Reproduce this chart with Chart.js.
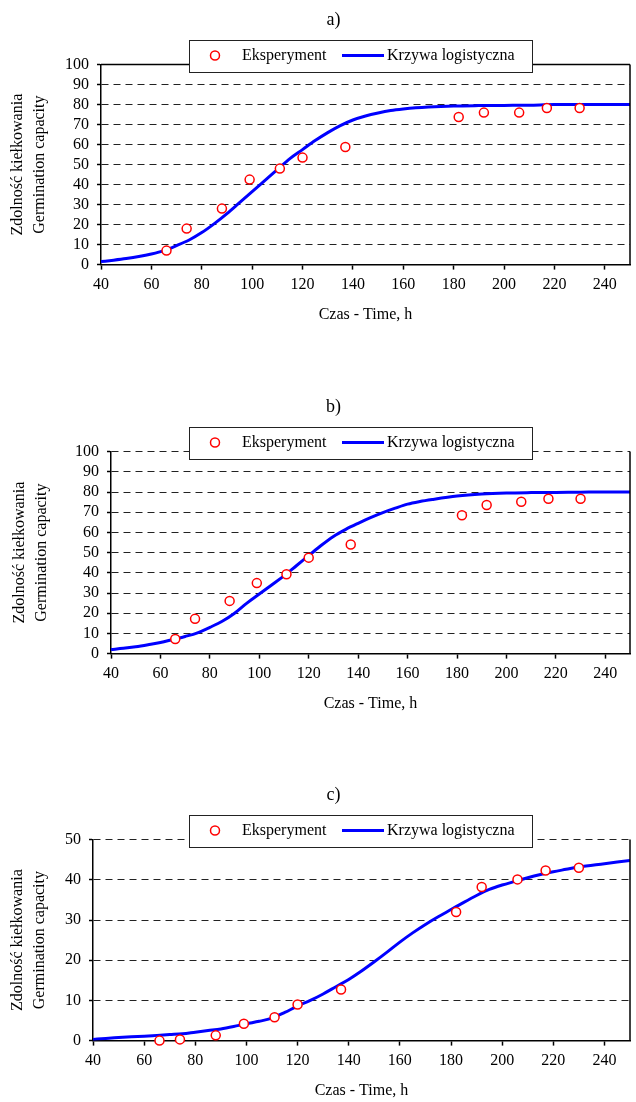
<!DOCTYPE html>
<html lang="pl">
<head>
<meta charset="UTF-8">
<title>Zdolność kiełkowania</title>
<style>
  html,body{margin:0;padding:0;background:#fff;width:636px;height:1102px;overflow:hidden}
  .wykres{position:absolute;left:0}
</style>
</head>
<body>
  <canvas id="wykresA" class="wykres" width="636" height="328" style="top:0;width:636px;height:328px"></canvas>
  <canvas id="wykresB" class="wykres" width="636" height="330" style="top:387px;width:636px;height:330px"></canvas>
  <canvas id="wykresC" class="wykres" width="636" height="329" style="top:775px;width:636px;height:329px"></canvas>

<script src="https://cdn.jsdelivr.net/npm/chart.js@4.4.0"></script>
<script>
/* ---------- Dane ---------- */
const czas = [66, 74, 88, 99, 111, 120, 137, 182, 192, 206, 217, 230];   // h
const eksA = [7, 18, 28, 42.5, 48, 53.5, 58.8, 73.8, 76, 76, 78.3, 78.3];
const eksB = [7.2, 17.2, 26.1, 34.9, 39.3, 47.5, 54, 68.5, 73.6, 75.2, 76.7, 76.7];
const eksC = [0, 0.3, 1.3, 4.2, 5.8, 9, 12.7, 32, 38.2, 40.1, 42.3, 43];

const krzA_x = [40,45,50,55,60,65,70,75,80,85,90,95,100,105,110,115,120,125,130,135,140,145,150,155,160,165,170,180,190,200,210,220,230,240,250];
const krzA_y = [1.5,2.2,3,4,5.3,7,9.5,12.3,16,20.5,25.5,31,36.5,42,47.5,53,57.5,62,66,69.5,72.3,74.3,75.8,77,77.8,78.4,78.8,79.3,79.5,79.6,79.7,80,80,80,80];

const krzB_x = [40,45,50,55,60,65,70,75,80,85,90,95,100,105,110,115,120,125,130,135,140,145,150,155,160,165,170,180,190,200,210,220,230,240,250];
const krzB_y = [2,2.6,3.4,4.4,5.5,7,8.5,10.3,13,16,20,25,29.5,34,38.5,43.5,48.5,53.5,58,61.5,64.5,67.3,69.8,72,74,75.3,76.3,78,79,79.5,79.7,79.8,79.9,80,80];

const krzC_x = [40,45,50,55,60,65,70,75,80,85,90,95,100,105,110,115,120,125,130,135,140,145,150,155,160,165,170,175,180,185,190,195,200,205,210,215,220,225,230,240,250];
const krzC_y = [0.3,0.55,0.75,0.95,1.1,1.3,1.5,1.7,2.1,2.5,2.9,3.5,4.2,4.8,5.6,7,8.6,10,11.6,13.4,15.2,17.3,19.6,22,24.5,26.8,28.9,30.8,32.6,34.4,36.1,37.6,38.7,39.6,40.5,41.3,42,42.6,43.2,44,44.8];

/* ---------- Osie ---------- */
const xTicks   = [40, 60, 80, 100, 120, 140, 160, 180, 200, 220, 240];
const yTicksAB = [0, 10, 20, 30, 40, 50, 60, 70, 80, 90, 100];
const yTicksC  = [0, 10, 20, 30, 40, 50];

const FONT = '"Liberation Serif", "Times New Roman", serif';
const LEWY = 34;   // lewy margines: tytuł "a)" wyśrodkowany nad prawą częścią

/* ---------- Ramka: prawa krawędź (i górna w a) ---------- */
const ramka = {
  id: 'ramka',
  afterDraw(chart, args, opts) {
    const {ctx, chartArea: a} = chart;
    ctx.save();
    ctx.strokeStyle = '#000'; ctx.lineWidth = 1.5;
    ctx.beginPath();
    if (opts.gora) { ctx.moveTo(a.left, a.top); ctx.lineTo(a.right, a.top); }
    ctx.moveTo(a.right, a.top); ctx.lineTo(a.right, a.bottom);
    ctx.stroke();
    ctx.restore();
  }
};

/* ---------- Legenda w ramce (nachodzi na górę wykresu) ---------- */
const legenda = {
  id: 'legenda',
  afterDraw(chart) {
    const ctx = chart.ctx, ds = chart.data.datasets;
    const x0 = 189, y0 = 40, w = 343, h = 32, yc = 55.5;
    ctx.save();
    ctx.fillStyle = '#fff'; ctx.fillRect(x0, y0, w, h);
    ctx.strokeStyle = '#222'; ctx.lineWidth = 1;
    ctx.strokeRect(x0 + 0.5, y0 + 0.5, w, h);
    // znacznik punktu
    ctx.beginPath(); ctx.arc(215, yc, 4.5, 0, Math.PI * 2);
    ctx.fillStyle = '#fff'; ctx.fill();
    ctx.strokeStyle = ds[0].pointBorderColor; ctx.lineWidth = 1.5; ctx.stroke();
    // linia
    ctx.beginPath(); ctx.moveTo(342, yc); ctx.lineTo(384, yc);
    ctx.strokeStyle = ds[1].borderColor; ctx.lineWidth = 3; ctx.stroke();
    // teksty
    ctx.fillStyle = '#000'; ctx.font = '16px ' + FONT;
    ctx.textBaseline = 'middle'; ctx.textAlign = 'left';
    ctx.fillText(ds[0].label, 242, yc);
    ctx.fillText(ds[1].label, 387, yc);
    ctx.restore();
  }
};

function wykres(id, opis, eks, krzX, krzY, yTicks, lewa, tytulX) {
  return new Chart(document.getElementById(id), {
    type: 'scatter',
    data: {
      datasets: [
        { label: 'Eksperyment',
          data: czas.map((t, i) => ({x: t, y: eks[i]})),
          pointRadius: 4.5, pointBorderWidth: 1.5,
          pointBorderColor: '#ff0000', pointBackgroundColor: '#ffffff',
          clip: false, order: 0 },
        { label: 'Krzywa logistyczna',
          data: krzX.map((t, i) => ({x: t, y: krzY[i]})),
          showLine: true, borderColor: '#0000ff', borderWidth: 3,
          pointRadius: 0, cubicInterpolationMode: 'monotone', order: 1 }
      ]
    },
    options: {
      responsive: false, animation: false, devicePixelRatio: 1,
      layout: {padding: {left: LEWY, right: 3, top: 0, bottom: 0}},
      plugins: {
        legend: {display: false},
        tooltip: {enabled: false},
        title: {display: true, text: opis, color: '#000',
                font: {family: FONT, size: 18, weight: 'normal'},
                padding: {top: 9, bottom: 34}},
        ramka: {gora: opis === 'a)'}
      },
      scales: {
        x: {
          type: 'linear', min: 40, max: 250,
          afterBuildTicks: s => { s.ticks = xTicks.map(v => ({value: v})); },
          grid: {drawOnChartArea: false, drawTicks: true, tickLength: 5,
                 tickColor: '#000', tickWidth: 1.5},
          border: {display: true, color: '#000', width: 1.5},
          ticks: {color: '#000', font: {family: FONT, size: 16}, padding: 6,
                  maxRotation: 0, autoSkip: false},
          title: {display: true, text: 'Czas - Time, h', color: '#000',
                  font: {family: FONT, size: 16}, padding: {top: 4, bottom: 4}}
        },
        y: {
          min: 0, max: yTicks[yTicks.length - 1],
          afterBuildTicks: s => { s.ticks = yTicks.map(v => ({value: v})); },
          afterFit: s => { s.width = lewa - LEWY; },
          grid: {color: '#222', lineWidth: 1, drawTicks: true, tickLength: 4,
                 tickColor: '#000', tickWidth: 1.5},
          border: {display: true, color: '#000', width: 1.5, dash: [7, 5]},
          ticks: {color: '#000', font: {family: FONT, size: 16}, padding: 8,
                  autoSkip: false},
          title: {display: true, text: ['Zdolność kiełkowania', 'Germination capacity'],
                  color: '#000', font: {family: FONT, size: 16, lineHeight: '22px'},
                  padding: {top: tytulX - 11 - LEWY, bottom: 0}}
        }
      }
    },
    plugins: [ramka, legenda]
  });
}

wykres('wykresA', 'a)', eksA, krzA_x, krzA_y, yTicksAB, 101, 18);
wykres('wykresB', 'b)', eksB, krzB_x, krzB_y, yTicksAB, 111, 20);
wykres('wykresC', 'c)', eksC, krzC_x, krzC_y, yTicksC, 93, 18);
</script>
</body>
</html>
